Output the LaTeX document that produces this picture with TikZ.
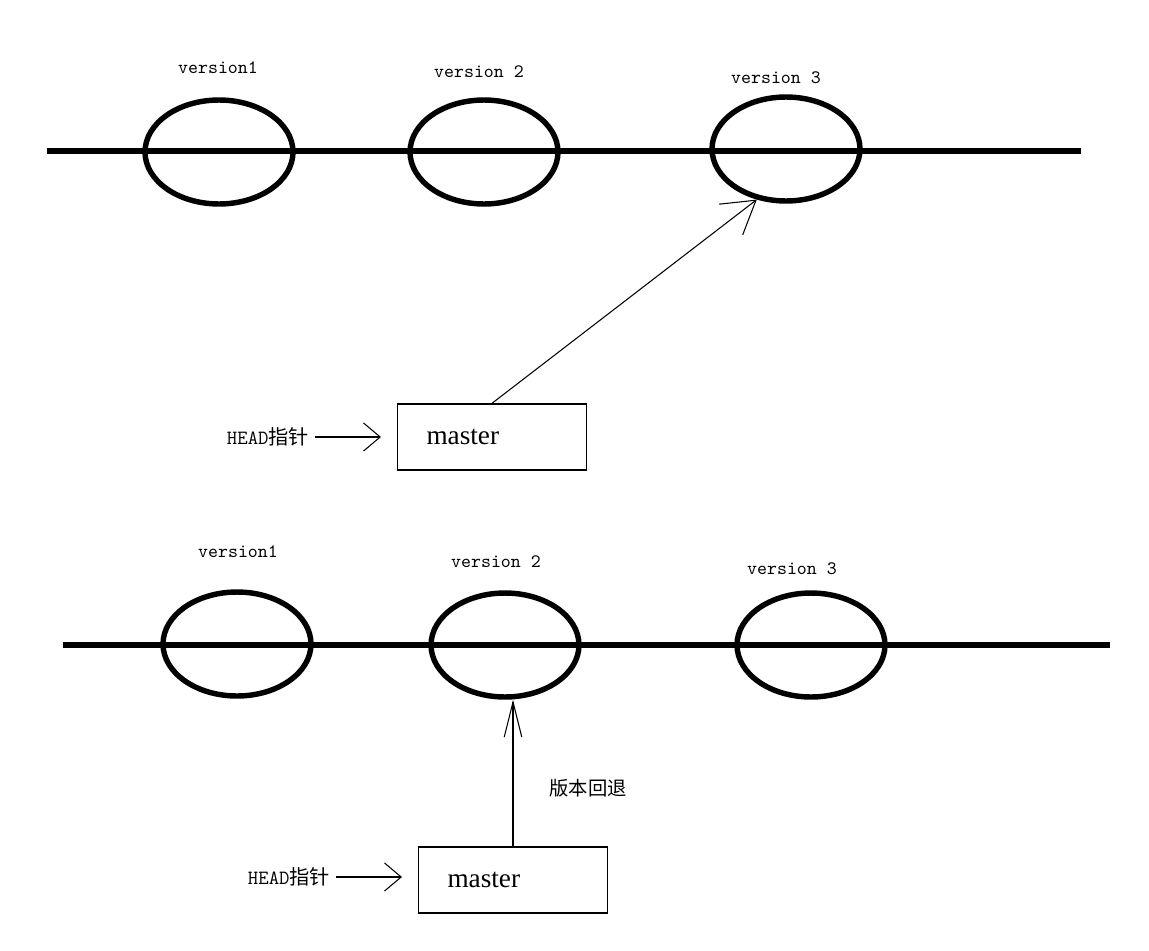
\documentclass[tikz,border=0pt]{standalone}
\usepackage{fontspec}
\setmainfont{Liberation Serif}
\newfontfamily\cjk{Noto Sans CJK SC}
\usetikzlibrary{arrows.meta, shapes.geometric}

\begin{document}
\begin{tikzpicture}[
  x=0.02cm, y=-0.02cm,
  commit/.style={draw, ellipse, line width=3.1pt, inner sep=0pt,
                 minimum width=2.96cm, minimum height=2.08cm},
  timeline/.style={line width=2.9pt},
  verlabel/.style={font=\ttfamily\fontsize{10.8}{12}\selectfont},
  branch/.style={draw, line width=0.8pt, minimum height=1.32cm, inner xsep=0.58cm,
                 text width=2.62cm, align=left, font=\fontsize{15.5}{18}\selectfont},
  headlabel/.style={font=\fontsize{11.5}{13}\selectfont},
  pointer/.style={line width=0.6pt, -{Straight Barb[length=9.5pt, width=16pt]}},
  every node/.style={font=\small}
]
  \useasboundingbox (0,0) rectangle (1149,950);

  % first state
  \draw[timeline] (47,151) -- (1081,151);
  \node[commit] (top1) at (219,152) {};
  \node[commit] (top2) at (484,152) {};
  \node[commit] (top3) at (786,149) {};
  \node[verlabel] at (218,68) {version1};
  \node[verlabel] at (479,72) {version 2};
  \node[verlabel] at (776,78) {version 3};

  \node[branch] (mastertop) at (492,437) {master};
  \node[headlabel] (headtop) at (268,437) {\ttfamily HEAD\cjk 指针};
  \draw[pointer, shorten >=15\pgflinewidth] (headtop) -- (mastertop);
  \draw[line width=0.6pt, -{Straight Barb[length=18pt, width=22pt]}]
    (mastertop.north) -- (top3.240);

  % after reset
  \draw[timeline] (63,645) -- (1110,645);
  \node[commit] (bot1) at (237,644) {};
  \node[commit] (bot2) at (505,645) {};
  \node[commit] (bot3) at (811,645) {};
  \node[verlabel] at (238,552) {version1};
  \node[verlabel] at (496,562) {version 2};
  \node[verlabel] at (792,569) {version 3};

  \node[branch] (masterbot) at (513,880) {master};
  \node[headlabel] (headbot) at (289,877) {\ttfamily HEAD\cjk 指针};
  \draw[pointer, shorten >=15\pgflinewidth] (headbot) -- (masterbot.west |- headbot);
  \draw[line width=0.6pt, -{Straight Barb[length=20pt, width=10pt]}]
    (masterbot.north) -- (masterbot.north |- bot2.south);
  \node[font=\cjk\fontsize{11}{13}\selectfont] at (588,788) {版本回退};
\end{tikzpicture}
\end{document}
